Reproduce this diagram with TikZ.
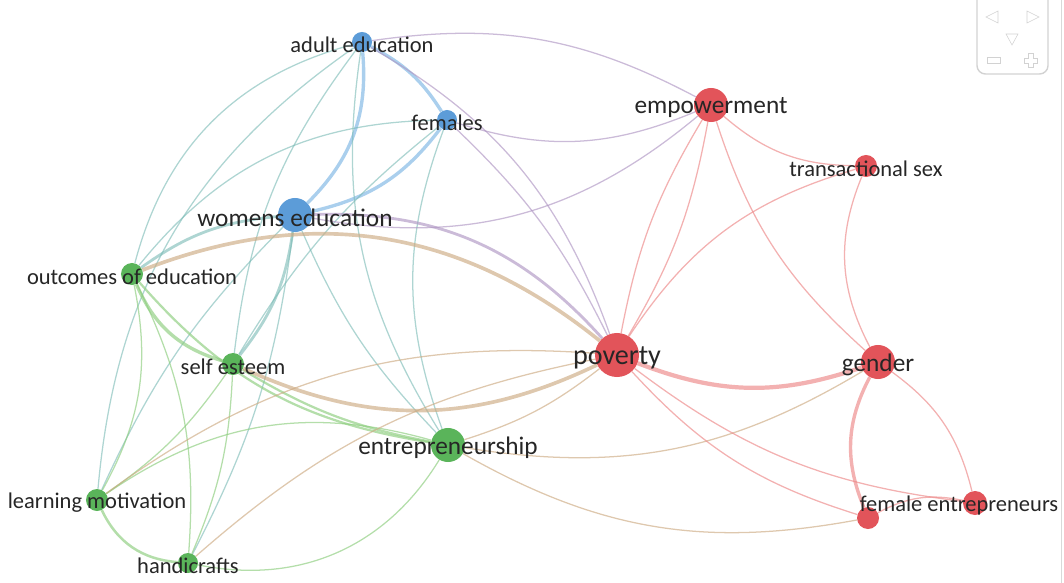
\documentclass[tikz,border=0pt]{standalone}
\usepackage{fontspec}
\setmainfont{Carlito}
\usetikzlibrary{backgrounds}

\definecolor{nblue}{RGB}{92,156,216}
\definecolor{ngreen}{RGB}{90,180,90}
\definecolor{nred}{RGB}{226,84,90}
\definecolor{eblue}{RGB}{125,182,228}
\definecolor{egreen}{RGB}{140,205,125}
\definecolor{ered}{RGB}{236,135,135}
\definecolor{eteal}{RGB}{120,185,180}
\definecolor{epurple}{RGB}{175,150,195}
\definecolor{ebrown}{RGB}{205,170,130}

\begin{document}
\begin{tikzpicture}[x=0.025cm, y=-0.025cm,
    dot/.style={circle, inner sep=0pt, minimum size=#1*0.05cm},
    blue dot/.style={dot=#1, fill=nblue},
    green dot/.style={dot=#1, fill=ngreen},
    red dot/.style={dot=#1, fill=nred},
    sm/.style={font=\fontsize{16}{18}\selectfont, text=black!85, yshift=-2pt},
    md/.style={font=\fontsize{18}{20}\selectfont, text=black!85, yshift=-2pt},
    lg/.style={font=\fontsize{20}{22}\selectfont, text=black!85, yshift=-2pt},
    bb/.style={eblue, opacity=.65, line width=.9pt},
    gg/.style={egreen, opacity=.65, line width=.9pt},
    rr/.style={ered, opacity=.65, line width=.9pt},
    bg/.style={eteal, opacity=.6, line width=.9pt},
    br/.style={epurple, opacity=.65, line width=.9pt},
    gr/.style={ebrown, opacity=.65, line width=.9pt}]
  \useasboundingbox (0,0) rectangle (1064,583);

  % clusters
  \node[blue dot=10, label={[sm]center:adult education}] (ae) at (362,42) {};
  \node[blue dot=10, label={[sm]center:females}] (fem) at (447,120) {};
  \node[blue dot=17, label={[md]center:womens education}] (we) at (295,215) {};
  \node[green dot=11, label={[sm]center:outcomes of education}] (oe) at (132,274) {};
  \node[green dot=11, label={[sm]center:self esteem}] (se) at (233,364) {};
  \node[green dot=17, label={[md]center:entrepreneurship}] (ent) at (448,445) {};
  \node[green dot=11, label={[sm]center:learning motivation}] (lm) at (97,500) {};
  \node[green dot=10, label={[sm]center:handicrafts}] (hc) at (188,563) {};
  \node[red dot=17, label={[md]center:empowerment}] (emp) at (711,105) {};
  \node[red dot=11, label={[sm]center:transactional sex}] (ts) at (866,166) {};
  \node[red dot=22, label={[lg]center:poverty}] (pov) at (617,355) {};
  \node[red dot=17, label={[md]center:gender}] (gen) at (878,362) {};
  \node[red dot=11] (fe2) at (868,518) {};
  \node[red dot=12, label={[sm, xshift=-0.4cm]center:female entrepreneurs}] (fe) at (975,503) {};

  \begin{pgfonlayer}{background}
    % blue links
    \draw[bb, line width=2.4pt] (ae) to[bend left=15] (fem);
    \draw[bb, line width=2.4pt] (ae) to[bend left=25] (we);
    \draw[bb, line width=2.4pt] (fem) to[bend left=20] (we);
    \draw[bg, line width=2pt] (we) to[bend left=15] (se);
    \draw[bg, line width=2pt] (oe) to[bend left=15] (we);
    \draw[bg] (ae) to[bend right=30] (oe);
    \draw[bg] (ae) to[bend right=25] (lm);
    \draw[bg] (ae) to[bend right=15] (se);
    \draw[bg] (ae) to[bend right=20] (ent);
    \draw[bg] (fem) to[bend right=25] (oe);
    \draw[bg] (fem) to[bend right=10] (se);
    \draw[bg] (fem) to[bend right=20] (ent);
    \draw[bg] (we) to[bend right=10] (ent);
    \draw[bg] (we) to[bend right=10] (lm);
    \draw[bg] (we) to[bend left=10] (hc);
    \draw[br] (ae) to[bend left=18] (emp);
    \draw[br] (ae) to[bend left=20] (pov);
    \draw[br] (fem) to[bend right=20] (emp);
    \draw[br] (fem) to[bend left=10] (pov);
    \draw[br, line width=2pt] (we) to[bend left=25] (pov);
    \draw[br] (we) to[bend right=25] (emp);
    % green links
    \draw[gg, line width=2.4pt] (oe) to[bend right=25] (se);
    \draw[gg, line width=1.6pt] (oe) to[bend right=20] (ent);
    \draw[gg] (oe) to[bend left=20] (lm);
    \draw[gg] (oe) to[bend left=15] (hc);
    \draw[gg] (se) to[bend left=10] (lm);
    \draw[gg] (se) to[bend left=10] (hc);
    \draw[gg, line width=1.6pt] (se) to[bend right=10] (ent);
    \draw[gg] (lm) to[bend left=25] (ent);
    \draw[gg, line width=1.8pt] (lm) to[bend right=30] (hc);
    \draw[gg] (hc) to[bend right=35] (ent);
    \draw[gr, line width=2.6pt] (oe) to[bend left=30] (pov);
    \draw[gr, line width=2.6pt] (se) to[bend right=25] (pov);
    \draw[gr] (lm) to[bend left=20] (pov);
    \draw[gr] (hc) to[bend left=15] (pov);
    \draw[gr] (ent) to[bend right=10] (pov);
    \draw[gr] (ent) to[bend right=20] (gen);
    \draw[gr] (ent) to[bend right=20] (fe2);
    % red links
    \draw[rr, line width=3pt] (pov) to[bend right=20] (gen);
    \draw[rr] (pov) to[bend right=10] (emp);
    \draw[rr] (pov) to[bend left=10] (emp);
    \draw[rr] (pov) to[bend left=20] (ts);
    \draw[rr] (pov) to[bend right=15] (fe2);
    \draw[rr] (pov) to[bend right=15] (fe);
    \draw[rr] (emp) to[bend right=15] (gen);
    \draw[rr] (emp) to[bend right=20] (ts);
    \draw[rr] (ts) to[bend right=25] (gen);
    \draw[rr, line width=2.4pt] (gen) to[bend right=25] (fe2);
    \draw[rr] (gen) to[bend left=20] (fe);
    \draw[rr] (fe2) to[bend left=20] (fe);
  \end{pgfonlayer}

  % map controls
  \draw[gray!35, line width=1pt, rounded corners=6pt] (977,-5) -- (977,74) -- (1048,74) -- (1048,-5);
  \draw[gray!35] (998,11) -- (986,17) -- (998,23) -- cycle;
  \draw[gray!35] (1027,11) -- (1039,17) -- (1027,23) -- cycle;
  \draw[gray!35] (1006,34) -- (1018,34) -- (1012,45) -- cycle;
  \draw[gray!35] (987,57) rectangle (1000,63);
  \draw[gray!35] (1028,53) -- (1033,53) -- (1033,58) -- (1037,58) -- (1037,63) -- (1033,63)
    -- (1033,67) -- (1028,67) -- (1028,63) -- (1024,63) -- (1024,58) -- (1028,58) -- cycle;
  \draw[gray!30] (1061,0) -- (1061,583);
\end{tikzpicture}
\end{document}
